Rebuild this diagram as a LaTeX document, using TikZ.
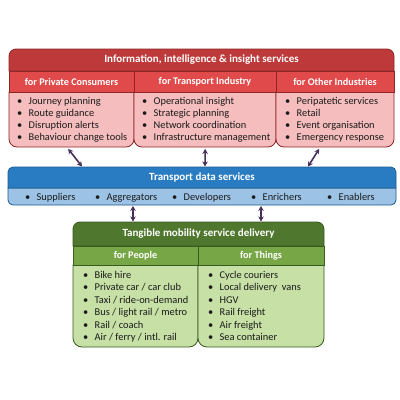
\documentclass[tikz,border=0pt]{standalone}
\usepackage{fontspec}
\setmainfont{Carlito}
\usetikzlibrary{calc,arrows.meta}
\definecolor{rT}{HTML}{BE3A3A}
\definecolor{rM}{HTML}{E04A4A}
\definecolor{rB}{HTML}{F5BDBD}
\definecolor{rO}{HTML}{8E2626}
\definecolor{bT}{HTML}{2A7CC2}
\definecolor{bB}{HTML}{9CC3E6}
\definecolor{bO}{HTML}{1E5A8E}
\definecolor{gT}{HTML}{4F772D}
\definecolor{gM}{HTML}{77A646}
\definecolor{gB}{HTML}{C6E0A6}
\definecolor{gO}{HTML}{3B5A20}
\definecolor{arr}{HTML}{47305A}
\definecolor{txt}{HTML}{1A1A1A}
\newcommand\bul{\makebox[11.5pt][l]{•}}
\tikzset{
  hdr/.style={text=white, font=\fontsize{11}{13}\selectfont\bfseries, inner sep=0pt},
  sub/.style={text=white, font=\fontsize{10.2}{12}\selectfont\bfseries, inner sep=0pt},
  lst/.style={text=txt, font=\fontsize{10.4}{12}\selectfont, align=left, inner sep=0pt, anchor=north west},
  itm/.style={text=txt, font=\fontsize{10.4}{12}\selectfont, inner sep=0pt, anchor=base west},
  area/.style={inner sep=0pt, anchor=north west},
  dbl/.style={arr, line width=1.6pt, {Stealth[length=5pt,width=5.5pt]}-{Stealth[length=5pt,width=5.5pt]}},
}
\begin{document}
\begin{tikzpicture}[x=1pt,y=-1pt]
\useasboundingbox (0,0) rectangle (400,400);
% ---------------- red group
\foreach \xa/\xb in {9/134, 134/276, 276/394}{
  \filldraw[fill=rB, draw=rO, line width=0.8pt] (\xa,92) [rounded corners=8] -- (\xa,147) -- (\xb,147) [sharp corners] -- (\xb,92) -- cycle;
  \filldraw[fill=rM, draw=rO, line width=0.8pt] (\xa,71) rectangle (\xb,92);
}
\filldraw[fill=rT, draw=rO, line width=0.8pt] (9,71) [rounded corners=7] -- (9,49) -- (394,49) [sharp corners] -- (394,71) -- cycle;
\node[hdr] (rtitle) at (201.5,60) {Information, intelligence \& insight services};
\node[sub] (s1) at (71.5,82) {for Private Consumers};
\node[sub] (s2) at (205,82) {for Transport Industry};
\node[sub] (s3) at (335,82) {for Other Industries};
\node[area, minimum width=125pt, minimum height=55pt] (pc) at (9,92) {};
\node[area, minimum width=142pt, minimum height=55pt] (ti) at (134,92) {};
\node[area, minimum width=118pt, minimum height=55pt] (oi) at (276,92) {};
\node[lst] (l1) at (17,97) {\bul Journey planning\\\bul Route guidance\\\bul Disruption alerts\\\bul Behaviour change tools};
\node[lst] (l2) at (142,97) {\bul Operational insight\\\bul Strategic planning\\\bul Network coordination\\\bul Infrastructure management};
\node[lst] (l3) at (285,97) {\bul Peripatetic services\\\bul Retail\\\bul Event organisation\\\bul Emergency response};
% ---------------- blue group
\filldraw[fill=bB, draw=bO, line width=0.8pt] (8,188) [rounded corners=5] -- (8,205) -- (396,205) [sharp corners] -- (396,188) -- cycle;
\filldraw[fill=bT, draw=bO, line width=0.8pt] (8,188) [rounded corners=5] -- (8,167) -- (396,167) [sharp corners] -- (396,188) -- cycle;
\node[area, minimum width=388pt, minimum height=38pt] (tds) at (8,167) {};
\node[hdr] (btitle) at (202,178) {Transport data services};
\node[itm] (b1) at (25,200) {\bul Suppliers};
\node[itm] (b2) at (95,200) {\bul Aggregators};
\node[itm] (b3) at (172,200) {\bul Developers};
\node[itm] (b4) at (251,200) {\bul Enrichers};
\node[itm] (b5) at (327,200) {\bul Enablers};
% ---------------- green group
\foreach \xa/\xb in {73/198, 198/324}{
  \filldraw[fill=gB, draw=gO, line width=0.8pt] (\xa,265) [rounded corners=9] -- (\xa,347) -- (\xb,347) [sharp corners] -- (\xb,265) -- cycle;
  \filldraw[fill=gM, draw=gO, line width=0.8pt] (\xa,246) rectangle (\xb,265);
}
\filldraw[fill=gT, draw=gO, line width=0.8pt] (73,246) [rounded corners=7] -- (73,222) -- (324,222) [sharp corners] -- (324,246) -- cycle;
\node[area, minimum width=251pt, minimum height=125pt] (tm) at (73,222) {};
\node[hdr] (gtitle) at (198.5,234) {Tangible mobility service delivery};
\node[sub] (g1) at (135.5,256) {for People};
\node[sub] (g2) at (261,256) {for Things};
\node[lst, font=\fontsize{10.4}{12.4}\selectfont] (gl1) at (83,271) {\bul Bike hire\\\bul Private car / car club\\\bul Taxi / ride-on-demand\\\bul Bus / light rail / metro\\\bul Rail / coach\\\bul Air / ferry / intl. rail};
\node[lst, font=\fontsize{10.4}{12.4}\selectfont] (gl2) at (208,271) {\bul Cycle couriers\\\bul Local delivery~ vans\\\bul HGV\\\bul Rail freight\\\bul Air freight\\\bul Sea container};
% ---------------- connectors
\draw[dbl] ($(pc.south)+(-3.5,1.5)$) -- ($(tds.north west)+(74,-0.5)$);
\draw[dbl] ($(ti.south)+(0,1.5)$) -- ($(tds.north west)+(197,-0.5)$);
\draw[dbl] ($(oi.south)+(-16,1.5)$) -- ($(tds.north west)+(300,-0.5)$);
\draw[dbl] ($(tds.south west)+(125,0.5)$) -- ($(tm.north west)+(60,-0.5)$);
\draw[dbl] ($(tds.south west)+(253,0.5)$) -- ($(tm.north west)+(188,-0.5)$);
\end{tikzpicture}
\end{document}
